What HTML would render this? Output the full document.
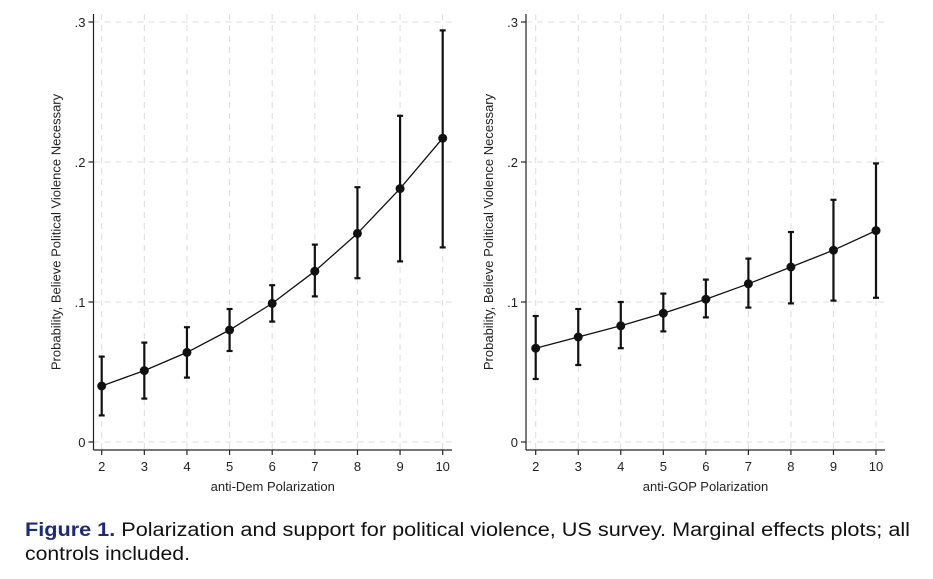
<!DOCTYPE html>
<html><head><meta charset="utf-8"><style>
html,body{margin:0;padding:0;background:#fff;}
svg{display:block;font-family:"Liberation Sans",Arial,sans-serif;}
</style></head><body>
<svg id="fig" width="933" height="579" viewBox="0 0 933 579" xmlns="http://www.w3.org/2000/svg">
<g id="left"></g>
<g id="right"></g>
<text x="25" y="536" font-size="19" textLength="885" lengthAdjust="spacingAndGlyphs" fill="#111"><tspan font-weight="bold" fill="#1c2a7a">Figure 1.</tspan> Polarization and support for political violence, US survey. Marginal effects plots; all</text>
<text x="25" y="560" font-size="19" textLength="165" lengthAdjust="spacingAndGlyphs" fill="#111">controls included.</text>
</svg>
<script>
const categories = [2,3,4,5,6,7,8,9,10];
const yTicks = [0,0.1,0.2,0.3];
const yTickLabels = ["0",".1",".2",".3"];
const demEstimate = [0.040,0.051,0.064,0.080,0.099,0.122,0.149,0.181,0.217];
const demLower = [0.019,0.031,0.046,0.065,0.086,0.104,0.117,0.129,0.139];
const demUpper = [0.061,0.071,0.082,0.095,0.112,0.141,0.182,0.233,0.294];
const gopEstimate = [0.067,0.075,0.083,0.092,0.102,0.113,0.125,0.137,0.151];
const gopLower = [0.045,0.055,0.067,0.079,0.089,0.096,0.099,0.101,0.103];
const gopUpper = [0.090,0.095,0.100,0.106,0.116,0.131,0.150,0.173,0.199];

const NS = "http://www.w3.org/2000/svg";
function mk(parent, tag, attrs){ const e=document.createElementNS(NS,tag); for(const k in attrs) e.setAttribute(k,attrs[k]); parent.appendChild(e); return e; }

function panel(g, name, ax, x2px, x10px, axisEnd, est, lo, hi, xTitle){
  const yScale = v => 442 - v*1400;
  const xScale = c => x2px + (c-2)*(x10px-x2px)/8;
  const grid = mk(g,'g',{});
  
  
  yTicks.forEach(t=>{ mk(grid,'line',{x1:ax,x2:axisEnd,y1:yScale(t),y2:yScale(t),stroke:'#dcdcdc','stroke-dasharray':'6,5','stroke-width':1}); });
  categories.forEach(c=>{ mk(grid,'line',{x1:xScale(c),x2:xScale(c),y1:14,y2:450,stroke:'#dcdcdc','stroke-dasharray':'6,5','stroke-width':1}); });
  const axes = mk(g,'g',{stroke:'#222','stroke-width':1.2});
  
  
  mk(axes,'line',{x1:ax,x2:ax,y1:14,y2:450});
  mk(axes,'line',{x1:ax,x2:axisEnd,y1:450,y2:450});
  yTicks.forEach((t,i)=>{
    mk(axes,'line',{x1:ax-5,x2:ax,y1:yScale(t),y2:yScale(t)});
    const tx = mk(g,'text',{x:ax-8,y:yScale(t)+5,'font-size':13,'text-anchor':'end',fill:'#222'});
    tx.textContent = yTickLabels[i];
    
    
  });
  categories.forEach(c=>{
    mk(axes,'line',{x1:xScale(c),x2:xScale(c),y1:450,y2:455});
    const tx = mk(g,'text',{x:xScale(c),y:471,'font-size':13,'text-anchor':'middle',fill:'#222'});
    tx.textContent = String(c);
    
    
  });
  const xt = mk(g,'text',{x:(ax+axisEnd)/2,y:491,'font-size':13,'text-anchor':'middle',fill:'#222'});
  xt.textContent = xTitle;
  
  
  const yt = mk(g,'text',{x:0,y:0,'font-size':13,'text-anchor':'middle',fill:'#222',transform:`translate(${ax-33},232) rotate(-90)`});
  yt.textContent = 'Probability, Believe Political Violence Necessary';
  
  
  // line
  const d = categories.map((c,i)=>(i?'L':'M')+xScale(c)+','+yScale(est[i])).join(' ');
  const ln = mk(g,'path',{d:d,fill:'none',stroke:'#111','stroke-width':1.3});
  
  
  categories.forEach((c,i)=>{
    const x=xScale(c);
    const eb = mk(g,'g',{stroke:'#111','stroke-width':2.2});
    
    
    mk(eb,'line',{x1:x,x2:x,y1:yScale(lo[i]),y2:yScale(hi[i])});
    mk(eb,'line',{x1:x-3,x2:x+3,y1:yScale(lo[i]),y2:yScale(lo[i])});
    mk(eb,'line',{x1:x-3,x2:x+3,y1:yScale(hi[i]),y2:yScale(hi[i])});
    const pt = mk(g,'circle',{cx:x,cy:yScale(est[i]),r:4.5,fill:'#111'});
    
    
  });
}
panel(document.getElementById('left'),'left',93.5,101.7,442.7,452,demEstimate,demLower,demUpper,'anti-Dem Polarization');
panel(document.getElementById('right'),'right',526,535.7,876,885,gopEstimate,gopLower,gopUpper,'anti-GOP Polarization');
</script>
</body></html>
